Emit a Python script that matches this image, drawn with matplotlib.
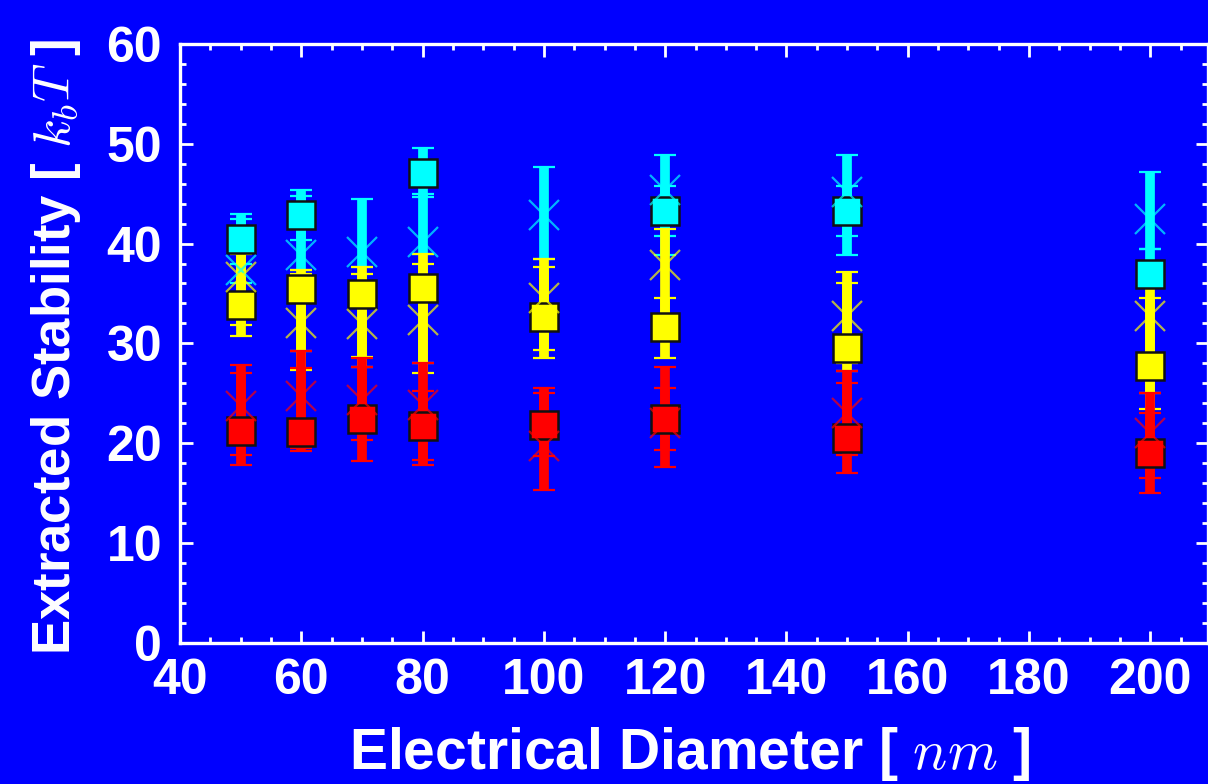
import matplotlib.pyplot as plt
from matplotlib.ticker import MultipleLocator
import numpy as np

plt.rcParams['font.family'] = ['Liberation Sans', 'DejaVu Sans']
plt.rcParams['font.weight'] = 'bold'
plt.rcParams['mathtext.fontset'] = 'cm'

diam = [50, 60, 70, 80, 100, 120, 150, 200]
nan = np.nan

# square markers: value, lower end, upper end of the bar
cyan_sq = [40.5, 42.9, nan, 47.1, nan, 43.3, 43.3, 37.0]
cyan_sq_lo = [38.0, 40.4, nan, 44.7, nan, 40.8, 40.8, 36.0]
cyan_sq_hi = [43.0, 45.4, nan, 49.6, nan, 45.8, 45.8, 39.5]
yellow_sq = [33.8, 35.4, 34.9, 35.5, 32.6, 31.6, 29.5, 27.7]
yellow_sq_lo = [31.8, 29.2, 28.6, 28.0, 29.3, 28.5, 27.2, 25.0]
yellow_sq_hi = [39.0, 37.4, 37.7, 39.0, 37.7, 34.5, 37.2, 34.5]
red_sq = [21.2, 21.1, 22.4, 21.7, 21.8, 22.4, 20.5, 19.0]
red_sq_lo = [17.8, 19.2, 18.2, 17.8, 15.3, 17.6, 17.0, 15.0]
red_sq_hi = [27.8, 29.2, 28.5, 28.0, 25.5, 27.6, 27.2, 25.0]

# cross markers: value, lower end, upper end
cyan_x = [37.4, 38.9, 39.2, 40.2, 42.9, 45.4, 45.2, 42.5]
cyan_x_lo = [36.0, 37.4, 37.7, 39.0, 38.5, 38.9, 38.9, 39.5]
cyan_x_hi = [42.5, 44.8, 44.5, 45.0, 47.7, 48.9, 48.9, 47.2]
yellow_x = [36.7, 32.0, 31.9, 32.3, 34.5, 37.9, 32.7, 32.7]
yellow_x_lo = [30.7, 27.3, 27.6, 27.0, 28.5, 32.0, 28.0, 23.4]
yellow_x_hi = [40.8, 37.0, 37.0, 38.0, 38.5, 41.5, 36.0, 37.4]
red_x = [23.7, 24.7, 24.3, 23.8, 19.7, 22.0, 23.0, 21.0]
red_x_lo = [18.8, 19.5, 20.3, 18.3, 18.7, 19.3, 18.8, 16.5]
red_x_hi = [27.0, 27.5, 27.6, 25.2, 25.0, 25.5, 26.0, 23.0]

series = [
    ('#00ffff', cyan_sq, cyan_sq_lo, cyan_sq_hi, cyan_x, cyan_x_lo, cyan_x_hi),
    ('#ffff00', yellow_sq, yellow_sq_lo, yellow_sq_hi, yellow_x, yellow_x_lo, yellow_x_hi),
    ('#ff0000', red_sq, red_sq_lo, red_sq_hi, red_x, red_x_lo, red_x_hi),
]

fig = plt.figure(figsize=(12.08, 7.84), dpi=100)
fig.patch.set_facecolor('#0000ff')
ax = fig.add_axes([0.149, 0.180, 0.851, 0.764])
ax.set_facecolor('#0000ff')

for i, (c, sq, sq_lo, sq_hi, xm, x_lo, x_hi) in enumerate(series):
    d = np.array(diam, dtype=float)
    sq, sq_lo, sq_hi = np.array(sq), np.array(sq_lo), np.array(sq_hi)
    xm, x_lo, x_hi = np.array(xm), np.array(x_lo), np.array(x_hi)
    for v, lo, hi in [(sq, sq_lo, sq_hi), (xm, x_lo, x_hi)]:
        ok = ~np.isnan(v)
        ax.errorbar(d[ok], v[ok], yerr=[v[ok] - lo[ok], hi[ok] - v[ok]],
                    fmt='none', ecolor=c, elinewidth=7, capsize=8,
                    capthick=1.6, zorder=2 + i * 0.1)
    ax.plot(d, xm, 'x', color=c, markersize=21, mew=1.6, alpha=0.7,
            zorder=4)
    ax.plot(d, sq, 's', color=c, markersize=20, mec='#111111', mew=1.8,
            zorder=3 + i * 0.1)

ax.set_xlim(40, 209.5)
ax.set_ylim(0, 60)
ax.xaxis.set_major_locator(MultipleLocator(20))
ax.xaxis.set_minor_locator(MultipleLocator(5))
ax.yaxis.set_major_locator(MultipleLocator(10))
ax.yaxis.set_minor_locator(MultipleLocator(2))

for s in ax.spines.values():
    s.set_color('white')
    s.set_linewidth(2.4)
ax.tick_params(which='both', direction='in', colors='white', top=True,
               right=True, labelsize=36, width=2)
ax.tick_params(which='major', length=9)
ax.tick_params(which='minor', length=4.5)
ax.tick_params(axis='x', which='major', pad=11)
ax.tick_params(axis='y', which='major', pad=13)
for lab in ax.get_xticklabels() + ax.get_yticklabels():
    lab.set_fontweight('bold')

ax.set_xlabel(r'Electrical Diameter [ $nm$ ]', color='white', fontsize=41,
              fontweight='bold')
ax.set_ylabel(r'Extracted Stability [ $k_bT$ ]', color='white', fontsize=38,
              fontweight='bold')
ax.xaxis.set_label_coords(0.496, -0.137)
ax.yaxis.set_label_coords(-0.094, 0.494)

fig.savefig('out.png', dpi=100, facecolor=fig.get_facecolor())
